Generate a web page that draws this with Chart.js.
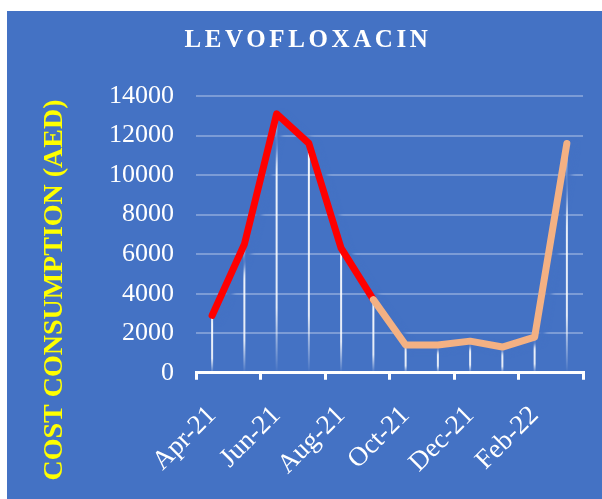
<!DOCTYPE html>
<html>
<head>
<meta charset="utf-8">
<title>Levofloxacin</title>
<script src="https://cdn.jsdelivr.net/npm/chart.js@4"></script>
<style>
    html, body { margin: 0; padding: 0; background: #ffffff; }
    #panel {
        position: absolute;
        left: 7px;
        top: 11px;
        width: 595px;
        height: 488px;
        background: #4472C4;
    }
</style>
</head>
<body>
<div id="panel"><canvas id="chart"></canvas></div>
<script>
// Chart data
const months = ['Apr-21', 'May-21', 'Jun-21', 'Jul-21', 'Aug-21', 'Sep-21',
                'Oct-21', 'Nov-21', 'Dec-21', 'Jan-22', 'Feb-22', 'Mar-22'];
const cost = [2900, 6500, 13100, 11600, 6300, 3700, 1400, 1400, 1600, 1300, 1800, 11600];
const yTicks = [0, 2000, 4000, 6000, 8000, 10000, 12000, 14000];
const redUntil = 5; // red segment runs Apr-21 .. Sep-21

const chartTitle = 'LEVOFLOXACIN';
const yTitle = 'COST CONSUMPTION (AED)';

const BG = '#4472C4';
const RED = '#FF0000';
const PEACH = '#F4B183';
const SERIF = '"Liberation Serif", "Times New Roman", serif';

// vertical drop lines from each point down to the axis
const dropLines = {
    id: 'dropLines',
    beforeDatasetsDraw(chart) {
        const ctx = chart.ctx;
        const bottom = chart.chartArea.bottom;
        chart.getDatasetMeta(0).data.forEach(pt => {
            const g = ctx.createLinearGradient(0, pt.y, 0, bottom);
            g.addColorStop(0, 'rgba(255,255,255,0.95)');
            g.addColorStop(0.75, 'rgba(255,255,255,0.85)');
            g.addColorStop(1, 'rgba(255,255,255,0)');
            ctx.save();
            ctx.strokeStyle = g;
            ctx.lineWidth = 2;
            ctx.beginPath();
            ctx.moveTo(pt.x, pt.y);
            ctx.lineTo(pt.x, bottom);
            ctx.stroke();
            ctx.restore();
        });
    }
};

// blue shadow under the line (hides the gridlines next to it)
const lineShadow = {
    id: 'lineShadow',
    beforeDatasetDraw(chart) {
        const ctx = chart.ctx;
        ctx.save();
        ctx.shadowColor = BG;
        ctx.shadowOffsetX = 6;
        ctx.shadowOffsetY = 3;
        ctx.shadowBlur = 4;
    },
    afterDatasetDraw(chart) {
        chart.ctx.restore();
    }
};

// title and rotated axis title
const texts = {
    id: 'texts',
    afterDraw(chart) {
        const ctx = chart.ctx;
        ctx.save();
        ctx.fillStyle = '#FFFFFF';
        ctx.font = 'bold 25px ' + SERIF;
        ctx.letterSpacing = '3.6px';
        ctx.textAlign = 'center';
        ctx.textBaseline = 'middle';
        ctx.fillText(chartTitle, 301, 30);
        ctx.letterSpacing = '0px';

        ctx.translate(48, 279);
        ctx.rotate(-Math.PI / 2);
        ctx.fillStyle = '#FFFF00';
        ctx.font = 'bold 28px ' + SERIF;
        ctx.fillText(yTitle, 0, 0);
        ctx.restore();
    }
};

new Chart(document.getElementById('chart'), {
    type: 'line',
    data: {
        labels: months,
        datasets: [{
            data: cost,
            borderWidth: 7,
            borderCapStyle: 'round',
            borderJoinStyle: 'round',
            pointRadius: 0,
            tension: 0,
            segment: {
                borderColor: c => c.p0DataIndex < redUntil ? RED : PEACH
            }
        }]
    },
    options: {
        responsive: true,
        maintainAspectRatio: false,
        animation: false,
        layout: {
            padding: { left: 80, right: 19, top: 85, bottom: 0 }
        },
        plugins: {
            legend: { display: false },
            tooltip: { enabled: false }
        },
        scales: {
            x: {
                offset: true,
                afterFit: axis => {
                    axis.paddingLeft = 0;
                    axis.paddingRight = 0;
                    axis.height -= 2;
                },
                border: { display: true, color: '#FFFFFF', width: 3 },
                grid: {
                    offset: true,
                    drawOnChartArea: false,
                    drawTicks: true,
                    tickLength: 7,
                    lineWidth: 3,
                    color: c => (c.index === undefined || c.index % 2 === 0) ? '#FFFFFF' : 'rgba(0,0,0,0)'
                },
                ticks: {
                    autoSkip: false,
                    maxRotation: 45,
                    minRotation: 45,
                    color: '#FFFFFF',
                    font: { family: SERIF, size: 27 },
                    padding: 20,
                    callback: function(v, i) { return i % 2 === 0 ? months[i] : ''; }
                }
            },
            y: {
                min: 0,
                max: 14000,
                afterBuildTicks: axis => { axis.ticks = yTicks.map(v => ({ value: v })); },
                border: { display: false },
                grid: {
                    color: 'rgba(255,255,255,0.3)',
                    lineWidth: 2,
                    drawTicks: false
                },
                ticks: {
                    color: '#FFFFFF',
                    font: { family: SERIF, size: 26 },
                    padding: 22,
                    callback: v => String(v)
                }
            }
        }
    },
    plugins: [dropLines, lineShadow, texts]
});
</script>
</body>
</html>
